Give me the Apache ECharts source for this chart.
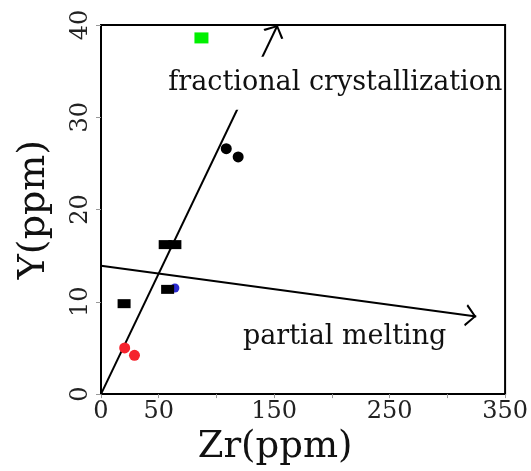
<!DOCTYPE html>
<html>
<head>
<meta charset="utf-8">
<script src="https://cdn.jsdelivr.net/npm/echarts@6/dist/echarts.min.js"></script>
<style>
  html, body { margin: 0; padding: 0; background: #fff; }
  #chart { width: 531px; height: 471px; }
</style>
</head>
<body>
<div id="chart"></div>
<script>
// sample points, [Zr, Y]
const blackSquares = [[55.6, 16.2], [64, 16.2], [57.7, 11.35], [20, 9.8]];
const blackCircles = [[108.5, 26.6], [118.8, 25.7]];
const redCircles = [[20.5, 5.0], [29, 4.2]];
const greenSquares = [[87, 38.6]];
const blueCircles = [[64, 11.5]];

// trend arrows
const fracLine = [[0, 0], [153, 40]];
const meltLine = [[0, 13.9], [325, 8.4]];

// annotations: [x, y, text]
const notes = [[203, 33.7, 'fractional crystallization'], [211, 6.2, 'partial melting']];

const xLabels = [0, 50, 150, 250, 350];
const yLabels = [0, 10, 20, 30, 40];

const FONT = 'DejaVu Serif';
// open arrow head, tip at the centre of its box
const arrowHead = 'path://M6,-11 L6.01,-11 L6,-10.99 Z M6,0 L12,10 L11,11.2 L6,2.6 L1,11.2 L0,10 Z';

const chart = echarts.init(document.getElementById('chart'));

const dot = (color, symbol, size, data, z) => ({
    type: 'scatter', symbol: symbol, symbolSize: size, z: z,
    itemStyle: { color: color, opacity: 1 },
    emphasis: { disabled: true },
    data: data
});

chart.setOption({
    backgroundColor: '#fff',
    animation: false,
    grid: {
        left: 101, right: 20, top: 25, bottom: 76,
        show: true, borderColor: '#000', borderWidth: 2
    },
    xAxis: {
        type: 'value', min: 0, max: 350, interval: 50,
        name: 'Zr(ppm)', nameLocation: 'middle', nameGap: 26,
        nameTextStyle: { fontFamily: FONT, fontSize: 37, color: '#111', padding: [0, 56, 0, 0] },
        axisLine: { show: true, lineStyle: { color: '#000', width: 2 } },
        axisTick: { show: true, inside: false, length: 4, lineStyle: { color: '#999' } },
        axisLabel: {
            fontFamily: FONT, fontSize: 24, color: '#222', margin: 6,
            formatter: v => xLabels.indexOf(v) >= 0 ? String(v) : ''
        },
        splitLine: { show: false }
    },
    yAxis: {
        type: 'value', min: 0, max: 40, interval: 10,
        name: 'Y(ppm)', nameLocation: 'middle', nameGap: 48, nameRotate: 90,
        nameTextStyle: { fontFamily: FONT, fontSize: 38, color: '#111' },
        axisLine: { show: true, lineStyle: { color: '#000', width: 2 } },
        axisTick: { show: true, length: 5, lineStyle: { color: '#999' } },
        axisLabel: {
            fontFamily: FONT, fontSize: 24, color: '#222', rotate: 90, margin: 8,
            formatter: v => yLabels.indexOf(v) >= 0 ? String(v) : ''
        },
        splitLine: { show: false }
    },
    series: [
        {
            type: 'lines', coordinateSystem: 'cartesian2d', z: 3,
            symbol: ['none', arrowHead], symbolSize: [12, 22],
            lineStyle: { color: '#000', width: 2, opacity: 1 },
            data: [{ coords: fracLine }, { coords: meltLine }]
        },
        dot('#2b2bd0', 'circle', 9, blueCircles, 4),
        dot('#000', 'rect', [13, 9], blackSquares, 5),
        dot('#000', 'circle', 11, blackCircles, 5),
        dot('#f5222d', 'circle', 11, redCircles, 5),
        dot('#00f000', 'rect', [14, 11], greenSquares, 5),
        {
            type: 'scatter', symbolSize: 0, z: 6, silent: true,
            itemStyle: { opacity: 1 },
            emphasis: { disabled: true },
            label: {
                show: true, position: 'inside', opacity: 1,
                formatter: p => p.value[2],
                fontFamily: FONT, fontSize: 27, color: '#111'
            },
            data: [
                // white box behind the upper note hides the line
                { value: notes[0], label: { backgroundColor: '#fff', padding: [0, 0, 26, 0] } },
                { value: notes[1] }
            ]
        }
    ]
});
</script>
</body>
</html>
